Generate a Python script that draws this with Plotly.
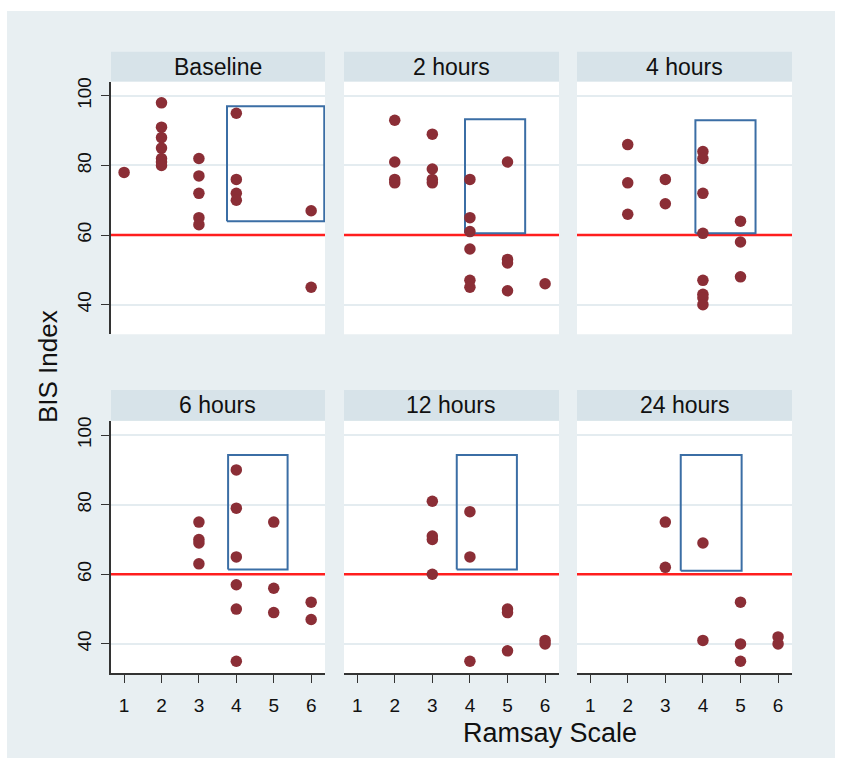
import plotly.graph_objects as go

W, H = 842, 765

panels = ["Baseline", "2 hours", "4 hours", "6 hours", "12 hours", "24 hours"]

ramsay_baseline = [1, 2, 2, 2, 2, 2, 2, 2, 3, 3, 3, 3, 3, 4, 4, 4, 4, 6, 6]
bis_baseline = [78, 98, 91, 88, 85, 82, 81, 80, 82, 77, 72, 65, 63, 95, 76, 72, 70, 67, 45]

ramsay_2h = [2, 2, 2, 2, 3, 3, 3, 3, 4, 4, 4, 4, 4, 4, 5, 5, 5, 5, 6]
bis_2h = [93, 81, 76, 75, 89, 79, 76, 75, 76, 65, 61, 56, 47, 45, 81, 53, 52, 44, 46]

ramsay_4h = [2, 2, 2, 3, 3, 4, 4, 4, 4, 4, 4, 4, 4, 5, 5, 5]
bis_4h = [86, 75, 66, 76, 69, 84, 82, 72, 60.5, 47, 43, 42, 40, 64, 58, 48]

ramsay_6h = [3, 3, 3, 3, 4, 4, 4, 4, 4, 4, 5, 5, 5, 6, 6]
bis_6h = [75, 70, 69, 63, 90, 79, 65, 57, 50, 35, 75, 56, 49, 52, 47]

ramsay_12h = [3, 3, 3, 3, 4, 4, 4, 5, 5, 5, 6, 6]
bis_12h = [81, 71, 70, 60, 78, 65, 35, 50, 49, 38, 41, 40]

ramsay_24h = [3, 3, 4, 4, 5, 5, 5, 6, 6]
bis_24h = [75, 62, 69, 41, 52, 40, 35, 42, 40]

# highlight boxes: [x0, x1, y0, y1]
box_baseline = [3.75, 6.35, 64, 97]
box_2h = [3.87, 5.47, 60.5, 93.3]
box_4h = [3.8, 5.4, 60.5, 93]
box_6h = [3.78, 5.37, 61.4, 94.3]
box_12h = [3.65, 5.25, 61.4, 94.3]
box_24h = [3.41, 5.03, 61, 94.3]

threshold = 60
x_range = [0.65, 6.37]
y_range = [31.5, 104.1]
x_ticks = [1, 2, 3, 4, 5, 6]
y_ticks = [40, 60, 80, 100]

xs = [ramsay_baseline, ramsay_2h, ramsay_4h, ramsay_6h, ramsay_12h, ramsay_24h]
ys = [bis_baseline, bis_2h, bis_4h, bis_6h, bis_12h, bis_24h]
boxes = [box_baseline, box_2h, box_4h, box_6h, box_12h, box_24h]

BG = "#E8EFF2"
STRIP = "#D7E3E9"
GRID = "#E4ECF0"
DOT = "#8B2E36"
FONT = "Liberation Sans, Arial, sans-serif"

col_px = [(111, 325), (344, 559), (577, 792)]
row_px = [(78, 332, 48), (419, 673, 388)]

fig = go.Figure()
layout = dict(
    width=W, height=H,
    margin=dict(l=0, r=0, t=0, b=0),
    paper_bgcolor=BG, plot_bgcolor="white",
    showlegend=False,
    font=dict(family=FONT, color="#111111"),
)
shapes = []
annotations = []

for i, name in enumerate(panels):
    r, c = divmod(i, 3)
    k = "" if i == 0 else str(i + 1)
    x0p, x1p = col_px[c]
    y0p, y1p, stp = row_px[r]
    xd = [x0p / W, x1p / W]
    yd = [1 - y1p / H, 1 - y0p / H]
    # threshold line
    fig.add_trace(go.Scatter(
        x=x_range, y=[threshold, threshold], mode="lines",
        line=dict(color="#FF1E1E", width=2.5),
        xaxis="x" + k, yaxis="y" + k, hoverinfo="skip",
    ))
    # highlight box
    b = boxes[i]
    fig.add_trace(go.Scatter(
        x=[b[0], b[1], b[1], b[0], b[0]], y=[b[2], b[2], b[3], b[3], b[2]],
        mode="lines", line=dict(color="#3B6EA5", width=2),
        xaxis="x" + k, yaxis="y" + k, hoverinfo="skip",
    ))
    fig.add_trace(go.Scatter(
        x=xs[i], y=ys[i], mode="markers",
        marker=dict(color=DOT, size=11.5),
        xaxis="x" + k, yaxis="y" + k, cliponaxis=False,
    ))
    bottom = r == 1
    left = c == 0
    layout["xaxis" + k] = dict(
        domain=xd, anchor="y" + k, range=x_range,
        tickvals=x_ticks, showgrid=False, zeroline=False,
        showticklabels=bottom, ticks="outside" if bottom else "",
        ticklen=8, tickwidth=1, tickcolor="#333", ticklabelstandoff=6,
        showline=bottom, linecolor="#333", linewidth=1.5,
        tickfont=dict(size=19, family=FONT, color="#111"),
    )
    layout["yaxis" + k] = dict(
        domain=yd, anchor="x" + k, range=y_range,
        tickvals=y_ticks, showgrid=True, gridcolor=GRID, gridwidth=1.5,
        zeroline=False, showticklabels=left, ticklabelstandoff=3,
        ticks="outside" if left else "", ticklen=8, tickwidth=1, tickcolor="#333",
        showline=left, linecolor="#333", linewidth=1.5, tickangle=-90,
        tickfont=dict(size=19, family=FONT, color="#111"),
    )
    # strip header
    shapes.append(dict(type="rect", xref="paper", yref="paper",
                       x0=xd[0], x1=xd[1], y0=1 - y0p / H, y1=1 - stp / H,
                       fillcolor=STRIP, line=dict(width=0), layer="below"))
    annotations.append(dict(text=name, xref="paper", yref="paper",
                            x=(xd[0] + xd[1]) / 2, y=1 - (stp + y0p) / 2 / H,
                            showarrow=False, xanchor="center", yanchor="middle",
                            font=dict(size=23, family=FONT, color="#111")))

# white page border
shapes.append(dict(type="rect", xref="paper", yref="paper", x0=0, x1=1, y0=0, y1=1,
                   line=dict(color="white", width=14), fillcolor="rgba(0,0,0,0)"))

annotations.append(dict(text="BIS Index", xref="paper", yref="paper",
                        x=48 / W, y=1 - 365 / H, textangle=-90, showarrow=False,
                        xanchor="center", yanchor="middle",
                        font=dict(size=26, family=FONT, color="#111")))
annotations.append(dict(text="Ramsay Scale", xref="paper", yref="paper",
                        x=550 / W, y=1 - 733 / H, showarrow=False,
                        xanchor="center", yanchor="middle",
                        font=dict(size=27, family=FONT, color="#111")))

layout["shapes"] = shapes
layout["annotations"] = annotations
fig.update_layout(**layout)
fig.write_html("out.html", config={"displayModeBar": False},
               post_script="document.body.style.margin='0';")
